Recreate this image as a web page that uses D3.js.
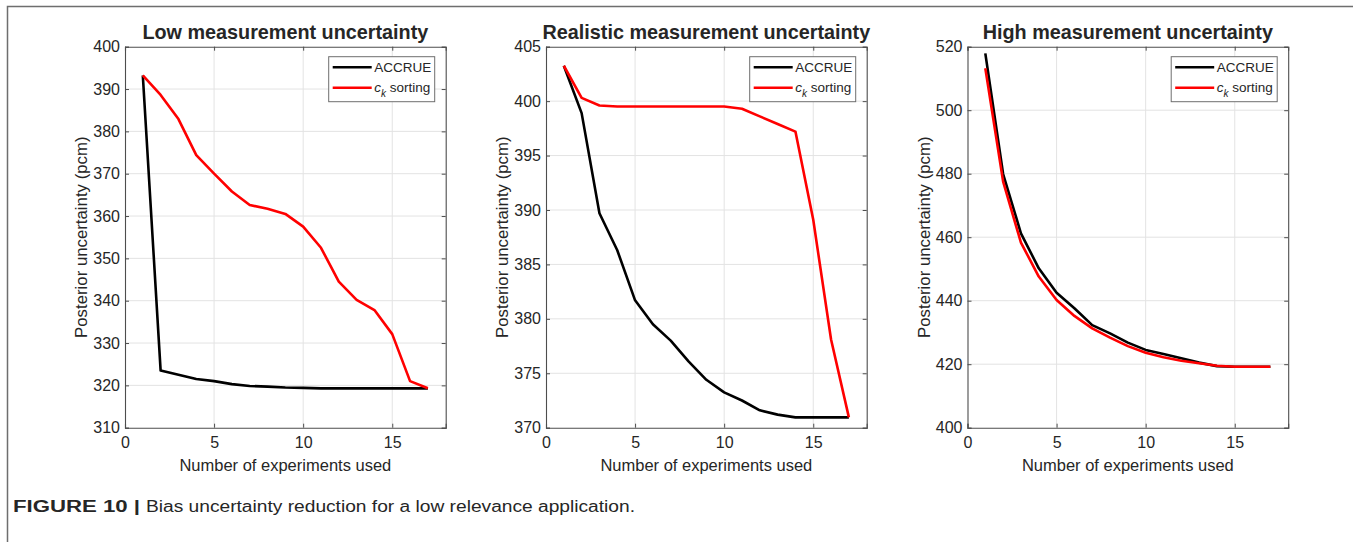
<!DOCTYPE html>
<html><head><meta charset="utf-8">
<script src="https://cdn.jsdelivr.net/npm/d3@7/dist/d3.min.js"></script>
<style>
body{margin:0;background:#fff}
svg{display:block}
text{font-family:"Liberation Sans",Arial,Helvetica,sans-serif;fill:#262626}
</style>
</head><body>
<svg id="c" width="1354" height="542"></svg>
<script>
// ---- data ----
const experiments = [1,2,3,4,5,6,7,8,9,10,11,12,13,14,15,16,17];
const seriesNames = ["ACCRUE", "c_k sorting"];
const panelTitles = ["Low measurement uncertainty", "Realistic measurement uncertainty", "High measurement uncertainty"];
const xTicks = [0,5,10,15];
const lowYTicks = [310,320,330,340,350,360,370,380,390,400];
const realYTicks = [370,375,380,385,390,395,400,405];
const highYTicks = [400,420,440,460,480,500,520];
const lowAccrue = [393.2,323.5,322.5,321.5,321.0,320.3,319.85,319.7,319.5,319.4,319.3,319.3,319.3,319.3,319.3,319.3,319.3];
const lowCk     = [393.2,388.6,382.9,374.4,370.0,365.8,362.6,361.7,360.5,357.5,352.5,344.5,340.2,337.8,332.1,321.0,319.3];
const realAccrue = [403.25,398.9,389.7,386.3,381.7,379.5,378.0,376.1,374.4,373.25,372.5,371.6,371.2,370.95,370.95,370.95,370.95];
const realCk     = [403.25,400.3,399.6,399.5,399.5,399.5,399.5,399.5,399.5,399.5,399.3,398.6,397.9,397.2,389.1,378.1,370.95];
const highAccrue = [517.9,479.9,461.2,450.2,442.5,437.6,432.3,429.7,426.8,424.5,423.2,421.85,420.5,419.4,419.2,419.2,419.2];
const highCk     = [513.2,477.5,458.3,447.6,440.2,435.2,431.3,428.35,425.7,423.6,422.2,421.1,420.3,419.5,419.2,419.2,419.2];
const xLabel = "Number of experiments used";
const yLabel = "Posterior uncertainty (pcm)";
const captionBold = "FIGURE 10 |";
const captionText = "Bias uncertainty reduction for a low relevance application.";

// ---- layout ----
const svg = d3.select("#c");
const W = 1354, H = 542;
// page frame
svg.append("path").attr("d", `M7.5,${H} V6.5 H1353`).attr("fill","none").attr("stroke","#6e6e6e").attr("stroke-width",1.5);

const panels = [
  {title: panelTitles[0], left: 125, dom: [310,400], yt: lowYTicks, a: lowAccrue, c: lowCk},
  {title: panelTitles[1], left: 546, dom: [370,405], yt: realYTicks, a: realAccrue, c: realCk},
  {title: panelTitles[2], left: 967.5, dom: [400,520], yt: highYTicks, a: highAccrue, c: highCk}
];
const plotTop = 46.7, pw = 320.7, ph = 381;
const colors = ["#000000", "#ff0000"];

panels.forEach(p => {
  const g = svg.append("g").attr("transform", `translate(${p.left},${plotTop})`);
  const x = d3.scaleLinear().domain([0,18]).range([0,pw]);
  const y = d3.scaleLinear().domain(p.dom).range([ph,0]);

  // grid
  g.append("g").selectAll("line").data(xTicks.filter(t=>t>0)).join("line")
    .attr("x1", d=>x(d)).attr("x2", d=>x(d)).attr("y1",0).attr("y2",ph)
    .attr("stroke","#e3e3e3").attr("stroke-width",1);
  g.append("g").selectAll("line").data(p.yt.filter(t=>t>p.dom[0] && t<p.dom[1])).join("line")
    .attr("y1", d=>y(d)).attr("y2", d=>y(d)).attr("x1",0).attr("x2",pw)
    .attr("stroke","#e3e3e3").attr("stroke-width",1);

  // lines
  const line = d3.line().x((d,i)=>x(experiments[i])).y(d=>y(d));
  [p.a, p.c].forEach((s,k)=>{
    g.append("path").datum(s).attr("d", line).attr("fill","none")
      .attr("stroke", colors[k]).attr("stroke-width", 2.6).attr("stroke-linejoin","round");
  });

  // axes
  const xa = g.append("g").attr("transform",`translate(0,${ph})`)
    .call(d3.axisBottom(x).tickValues(xTicks).tickSize(-4).tickPadding(9).tickFormat(d3.format("d")));
  const xt = g.append("g").call(d3.axisTop(x).tickValues(xTicks).tickSize(-4).tickFormat(""));
  const ya = g.append("g").call(d3.axisLeft(y).tickValues(p.yt).tickSize(-4).tickPadding(5).tickFormat(d3.format("d")));
  const yr = g.append("g").attr("transform",`translate(${pw},0)`).call(d3.axisRight(y).tickValues(p.yt).tickSize(-4).tickFormat(""));
  [xa,xt,ya,yr].forEach(a=>{
    a.select(".domain").attr("stroke","#4d4d4d").attr("stroke-width",1.1);
    a.selectAll(".tick line").attr("stroke","#4d4d4d");
    a.selectAll("text").attr("fill","#262626").attr("font-size","16px").attr("font-family",'"Liberation Sans",Arial,sans-serif');
  });

  // title
  g.append("text").attr("x", pw/2).attr("y", 39-plotTop).attr("text-anchor","middle")
    .attr("font-weight","bold").attr("font-size","19.8px").attr("fill","#000").text(p.title);
  // x label
  g.append("text").attr("x", pw/2).attr("y", 471-plotTop).attr("text-anchor","middle")
    .attr("font-size","16.5px").text(xLabel);
  // y label
  g.append("text").attr("transform",`translate(-38,${ph/2}) rotate(-90)`).attr("text-anchor","middle")
    .attr("font-size","16.8px").text(yLabel);

  // legend
  const lw = 106, lh = 45;
  const lg = g.append("g").attr("transform",`translate(${pw-11-lw},10)`);
  lg.append("rect").attr("width",lw).attr("height",lh).attr("fill","#fff").attr("stroke","#6e6e6e").attr("stroke-width",1);
  const rows = [10.5, 31];
  rows.forEach((ry,k)=>{
    lg.append("line").attr("x1",4).attr("x2",43).attr("y1",ry).attr("y2",ry)
      .attr("stroke",colors[k]).attr("stroke-width",2.6);
  });
  lg.append("text").attr("x",45.5).attr("y",rows[0]+5).attr("font-size","13.5px").attr("fill","#000").text(seriesNames[0]);
  const t2 = lg.append("text").attr("x",45.5).attr("y",rows[1]+4).attr("font-size","13.5px").attr("fill","#000");
  const parts = seriesNames[1].split("_"); // ["c","k sorting"]
  t2.append("tspan").attr("font-style","italic").text(parts[0]);
  t2.append("tspan").attr("font-style","italic").attr("font-size","10px").attr("dy",5).text(parts[1].split(" ")[0]);
  t2.append("tspan").attr("dy",-5).text(" " + parts[1].split(" ").slice(1).join(" "));
});

// caption
svg.append("text").attr("x",13).attr("y",512).attr("font-weight","bold").attr("font-size","16px")
  .attr("fill","#000").attr("textLength",127).attr("lengthAdjust","spacingAndGlyphs").text(captionBold);
svg.append("text").attr("x",146).attr("y",512).attr("font-size","16px")
  .attr("fill","#111").attr("textLength",489).attr("lengthAdjust","spacingAndGlyphs").text(captionText);
</script>
</body></html>
